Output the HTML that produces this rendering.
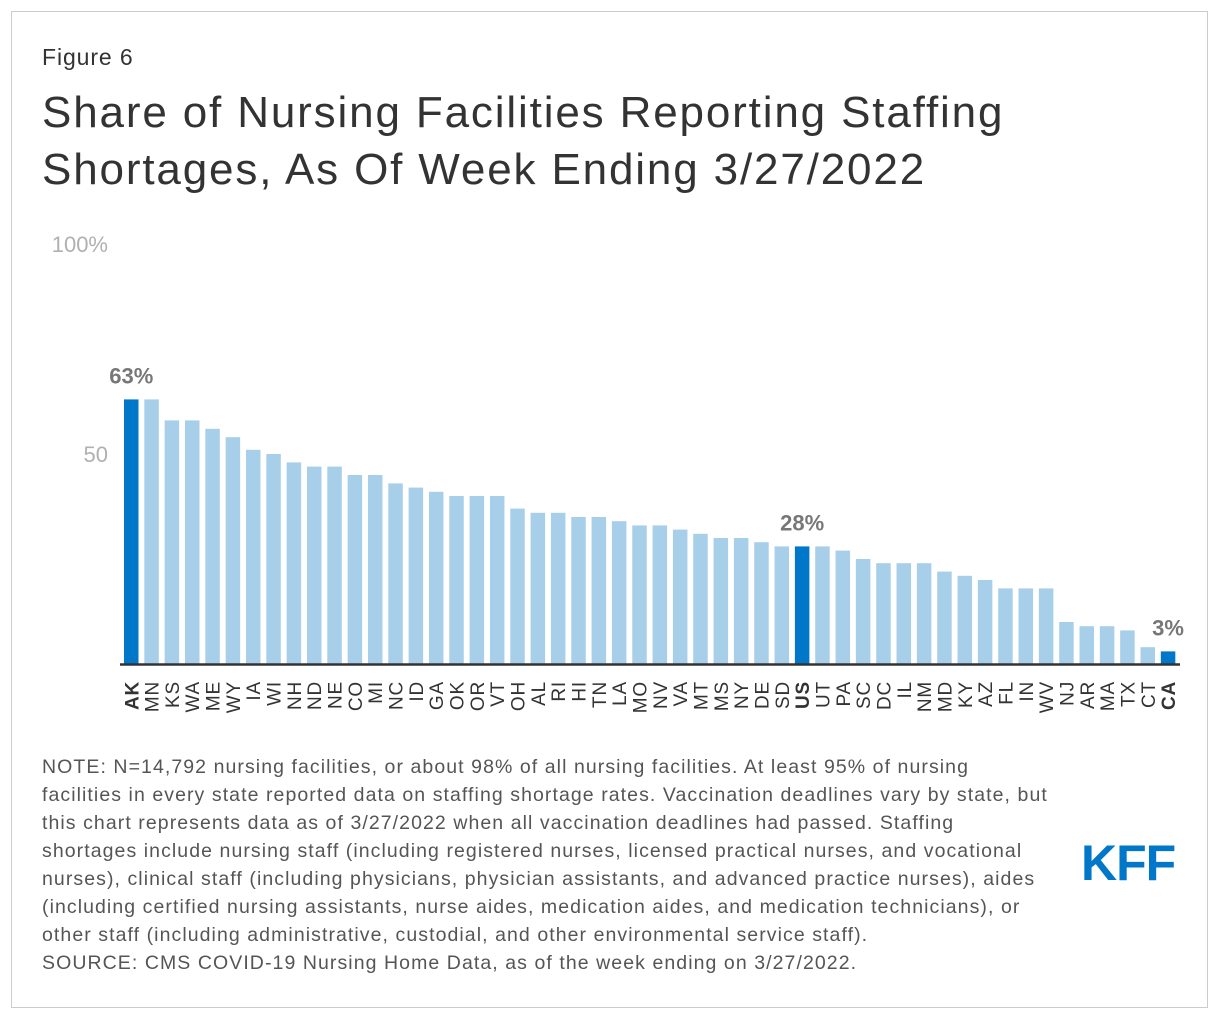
<!DOCTYPE html>
<html><head><meta charset="utf-8"><style>
body{margin:0;background:#fff;font-family:"Liberation Sans",Arial,sans-serif;}
#frame{position:absolute;left:11px;top:11px;width:1197px;height:997px;border:1px solid #ccc;box-sizing:border-box;}
.t{position:absolute;color:#333;white-space:nowrap;}
</style></head><body>
<div id="frame"></div>
<div class="t" style="left:42px;top:44px;font-size:23px;letter-spacing:0.9px;">Figure 6</div>
<div class="t" style="left:42px;top:84px;font-size:44px;line-height:57px;letter-spacing:1.85px;">Share of Nursing Facilities Reporting Staffing<br>Shortages, As Of Week Ending 3/27/2022</div>
<svg id="chart" width="1220" height="740" style="position:absolute;left:0;top:0"></svg>
<div class="t" style="left:42px;top:753px;font-size:19.5px;line-height:28px;color:#555;letter-spacing:1.07px;">NOTE: N=14,792 nursing facilities, or about 98% of all nursing facilities. At least 95% of nursing<br>facilities in every state reported data on staffing shortage rates. Vaccination deadlines vary by state, but<br>this chart represents data as of 3/27/2022 when all vaccination deadlines had passed. Staffing<br>shortages include nursing staff (including registered nurses, licensed practical nurses, and vocational<br>nurses), clinical staff (including physicians, physician assistants, and advanced practice nurses), aides<br>(including certified nursing assistants, nurse aides, medication aides, and medication technicians), or<br>other staff (including administrative, custodial, and other environmental service staff).<br>SOURCE: CMS COVID-19 Nursing Home Data, as of the week ending on 3/27/2022.</div>
<div style="position:absolute;left:1081px;top:836px;font-size:50px;line-height:54px;font-weight:bold;color:#0077c8;letter-spacing:-1px;">KFF</div>
<script>
const states=["AK","MN","KS","WA","ME","WY","IA","WI","NH","ND","NE","CO","MI","NC","ID","GA","OK","OR","VT","OH","AL","RI","HI","TN","LA","MO","NV","VA","MT","MS","NY","DE","SD","US","UT","PA","SC","DC","IL","NM","MD","KY","AZ","FL","IN","WV","NJ","AR","MA","TX","CT","CA"];
const values=[63,63,58,58,56,54,51,50,48,47,47,45,45,43,42,41,40,40,40,37,36,36,35,35,34,33,33,32,31,30,30,29,28,28,28,27,25,24,24,24,22,21,20,18,18,18,10,9,9,8,4,3];
const highlight=["AK","US","CA"];
const tickVals=[100,50];
const tickLabels=["100%","50"];
const svg=document.getElementById('chart');const NS="http://www.w3.org/2000/svg";
const y0=664,pxPer=4.2,x0=124,step=20.33,bw=14.5;
const y=v=>y0-v*pxPer;const x=i=>x0+i*step;
function mk(t,a){const e=document.createElementNS(NS,t);for(const k in a)e.setAttribute(k,a[k]);svg.appendChild(e);return e;}
tickVals.forEach((v,i)=>{const e=mk('text',{x:108,y:y(v)+8,'text-anchor':'end','font-size':22,fill:'#b0b0b0'});e.textContent=tickLabels[i];

});
states.forEach((s,i)=>{const hl=highlight.includes(s);
const r=mk('rect',{x:x(i),y:y(values[i]),width:bw,height:values[i]*pxPer,fill:hl?'#0077c8':'#a8cfea'});


const cx=x(i)+bw/2+7;
const t=mk('text',{transform:`translate(${cx},681) rotate(-90)`,'text-anchor':'end','font-size':19,'letter-spacing':0.8,fill:'#333','font-weight':hl?'bold':'normal'});t.textContent=s;


if(hl){const l=mk('text',{x:x(i)+bw/2,y:y(values[i])-16,'text-anchor':'middle','font-size':22,'font-weight':'bold',fill:'#777'});l.textContent=values[i]+'%';

}
});
const ax=mk('line',{x1:120,x2:1180,y1:y0+0.5,y2:y0+0.5,stroke:'#333','stroke-width':2.5});


</script>
</body></html>
